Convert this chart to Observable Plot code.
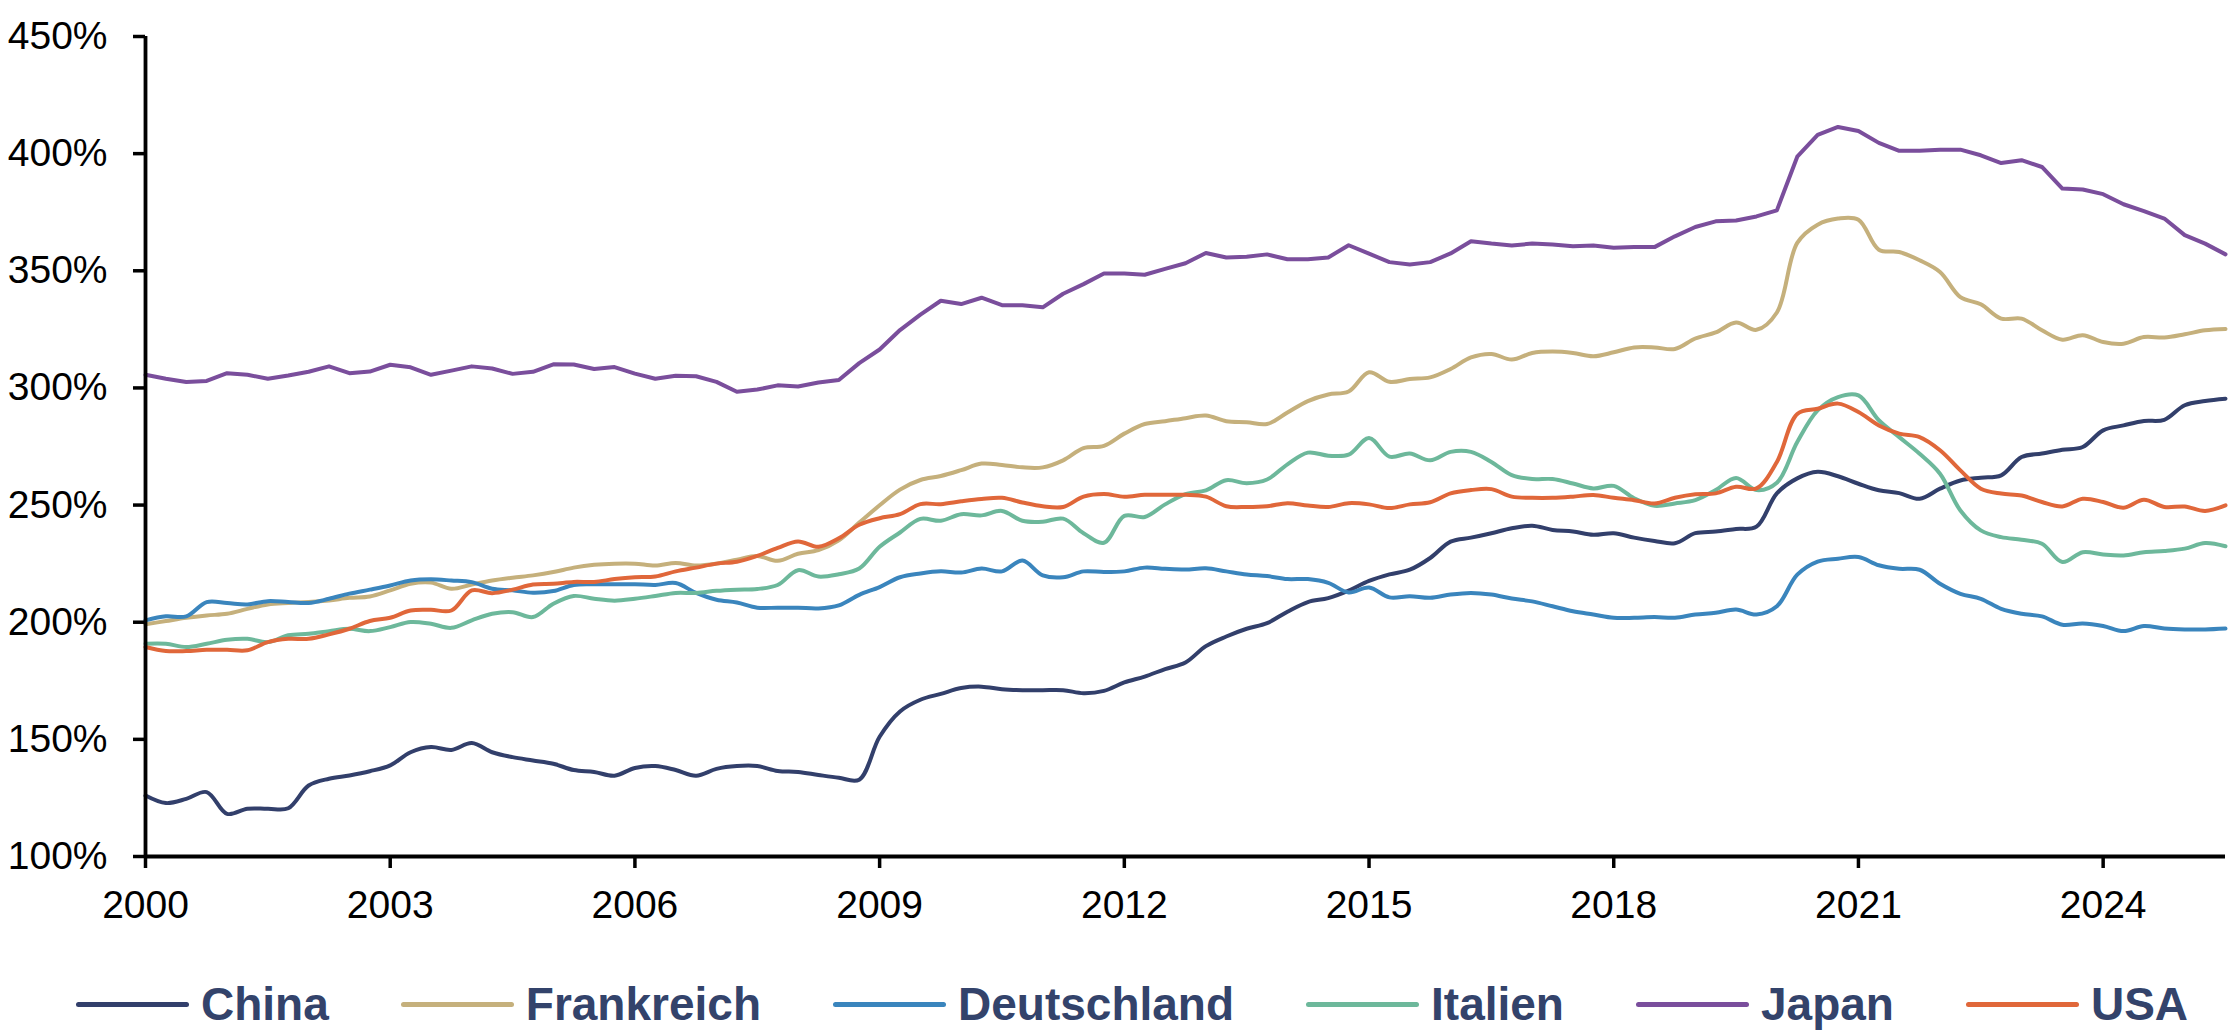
<!DOCTYPE html>
<html><head><meta charset="utf-8">
<script src="https://cdn.jsdelivr.net/npm/d3@7"></script>
<script src="https://cdn.jsdelivr.net/npm/@observablehq/plot@0.6"></script>
<style>
html,body{margin:0;padding:0;background:#fff;}
#wrap{position:relative;width:2236px;height:1036px;font-family:Arial,"Liberation Sans",sans-serif;color:#000;}
#legend{position:absolute;left:76px;top:977px;display:flex;align-items:center;gap:72px;font-weight:bold;font-size:46px;color:#33436b;line-height:normal;white-space:nowrap;}
.item{display:flex;align-items:center;}
.swatch{width:113px;height:5px;border-radius:3px;margin-right:12px;}
</style></head><body><div id="wrap"></div><script>
// Quarterly observations, 2000 Q1 .. mid 2025
const quarters = d3.range(103).map(i => 2000 + i / 4);
const countries = ["China", "Frankreich", "Deutschland", "Italien", "Japan", "USA"];
const colors = ["#323f6b", "#c5b07c", "#3a85bd", "#6db89b", "#7a4e9c", "#e0673a"];
const yTicks = [100, 150, 200, 250, 300, 350, 400, 450];
const xTicks = [2000, 2003, 2006, 2009, 2012, 2015, 2018, 2021, 2024];

const china = [126.0,122.8,124.6,127.5,118.2,120.4,120.4,120.6,130.3,133.2,134.6,136.4,138.9,144.5,146.7,145.5,148.4,144.5,142.4,141.0,139.6,
136.9,136.1,134.5,137.8,138.6,136.9,134.5,137.4,138.6,138.6,136.5,136.1,134.8,133.6,132.8,151.1,161.9,166.9,169.4,171.9,172.5,
171.4,171.0,171.0,171.0,169.7,170.7,174.3,176.8,180.0,182.8,189.8,193.9,197.2,199.6,204.5,208.6,210.3,213.5,217.6,220.4,
222.4,227.4,234.4,236.1,238.0,240.1,241.2,239.4,238.7,237.3,238.0,236.1,234.7,233.7,238.0,238.7,239.8,240.8,255.0,261.4,264.2,
262.3,259.1,256.3,255.1,252.7,257.0,260.5,261.7,262.7,270.5,272.0,273.6,274.8,281.9,284.0,285.9,286.4,292.6,294.4,295.4];

const frankreich = [199.1,200.5,201.9,202.9,203.6,205.7,207.6,208.2,208.6,209.3,210.4,211.0,213.6,216.4,216.9,214.3,216.1,217.8,219.0,220.0,221.4,
223.3,224.5,225.0,225.0,224.2,225.3,224.2,225.0,226.7,228.3,226.2,229.2,230.8,235.0,242.5,249.9,256.6,260.7,262.4,264.9,267.7,
267.1,266.1,266.1,269.1,274.3,275.3,280.5,284.6,285.8,287.1,288.2,285.8,285.4,284.6,289.5,294.4,297.2,298.5,306.7,302.6,
303.8,304.5,308.1,313.0,314.5,312.1,314.9,315.5,314.9,313.5,315.2,317.3,317.3,316.6,321.1,323.7,327.9,324.8,332.2,361.9,369.7,
372.3,371.8,359.0,358.0,354.5,349.5,338.8,335.7,329.6,329.6,324.6,320.6,322.5,319.6,318.9,321.7,321.5,322.9,324.6,325.2];

const deutschland = [200.8,202.5,202.5,208.6,208.2,207.6,209.0,208.6,208.2,210.0,212.2,213.9,215.7,217.8,218.3,217.8,217.1,214.3,213.6,212.6,213.3,
215.9,216.2,216.2,216.2,215.9,216.7,212.5,209.6,208.4,206.2,206.2,206.2,205.9,207.2,211.7,215.0,219.2,220.8,221.7,221.2,222.9,
221.7,226.3,220.0,219.2,221.7,221.4,221.7,223.3,222.8,222.5,223.0,221.7,220.4,219.7,218.4,218.4,216.8,212.7,214.8,210.6,
211.1,210.4,211.8,212.5,211.8,210.1,208.9,206.8,204.7,203.3,201.9,201.9,202.2,201.9,203.3,204.0,205.4,203.3,206.8,220.3,225.9,
227.1,227.8,224.3,222.8,222.4,216.4,212.1,210.0,205.7,203.6,202.5,198.9,199.5,198.4,196.2,198.4,197.3,196.9,196.9,197.3];

const italien = [190.8,190.8,189.4,190.8,192.5,192.9,191.5,194.4,195.1,196.2,197.2,196.2,197.9,200.1,199.3,197.6,200.8,203.6,204.3,202.2,207.9,
211.2,210.0,209.2,210.0,211.2,212.5,212.5,213.4,213.9,214.2,215.9,222.2,219.5,220.5,222.9,232.2,238.3,244.1,243.3,246.1,245.6,
247.5,243.3,242.9,244.2,238.0,233.9,245.4,244.9,250.3,254.7,256.3,260.6,259.3,260.9,267.4,272.4,271.1,271.5,278.6,270.7,
272.0,269.1,272.7,272.7,268.4,262.8,261.1,261.1,259.2,257.1,258.2,252.9,249.7,250.7,252.1,256.4,261.6,256.4,259.5,276.9,290.4,
296.1,296.8,286.2,279.0,271.9,263.4,247.7,239.2,236.3,235.2,233.5,225.7,229.9,228.9,228.5,229.9,230.4,231.4,233.8,232.4];

const japan = [305.6,303.9,302.5,303.0,306.3,305.6,303.9,305.3,306.9,309.2,306.3,307.0,309.9,308.8,305.6,307.4,309.2,308.3,306.0,306.9,310.1,
310.0,308.1,308.9,306.1,303.9,305.2,305.0,302.6,298.4,299.3,301.1,300.6,302.3,303.4,310.6,316.4,324.7,331.3,337.2,335.8,338.5,
335.3,335.3,334.4,340.2,344.3,348.8,348.8,348.3,350.8,353.2,357.6,355.7,356.0,357.0,354.9,354.9,355.7,360.9,357.3,353.7,
352.7,353.7,357.4,362.6,361.6,360.8,361.6,361.2,360.5,360.8,359.8,360.2,360.1,364.7,368.7,371.1,371.5,373.2,375.8,398.7,408.0,
411.4,409.7,404.6,401.2,401.2,401.7,401.7,399.3,396.0,397.2,394.3,385.1,384.7,382.7,378.4,375.5,372.3,365.2,361.6,357.0];

const usa = [189.4,187.7,187.7,188.2,188.2,188.0,191.5,192.9,192.9,194.8,197.2,200.5,201.9,205.0,205.3,205.0,213.6,212.4,213.9,216.1,216.4,
217.2,217.2,218.4,219.2,219.5,221.7,223.3,225.0,225.8,228.3,231.7,234.5,232.2,235.8,241.6,244.4,246.1,250.4,250.4,251.6,252.6,
253.1,251.1,249.5,249.2,253.6,254.7,253.6,254.4,254.4,254.4,253.6,249.5,249.2,249.5,250.8,249.8,249.2,250.8,250.3,248.7,
250.3,251.2,255.0,256.4,256.8,253.6,253.1,253.1,253.6,254.3,253.1,252.1,250.7,253.1,254.6,255.0,257.8,257.1,268.4,288.9,291.1,
293.3,289.7,284.0,280.5,279.0,273.4,264.8,257.0,254.9,254.1,251.3,249.4,252.7,251.3,248.9,252.3,249.2,249.4,247.5,249.9];

const seriesValues = [china, frankreich, deutschland, italien, japan, usa];
const rows = countries.flatMap((c, k) => seriesValues[k].map((v, i) => ({date: quarters[i], value: v, country: c})));

const chart = Plot.plot({
  width: 2236,
  height: 978,
  marginTop: 36,
  marginBottom: 122,
  marginLeft: 145,
  marginRight: 11,
  style: {fontFamily: "Arial, 'Liberation Sans', sans-serif", fontSize: "39px", color: "#000", background: "#fff"},
  x: {domain: [2000, 2025.5], label: null},
  y: {domain: [100, 450], label: null},
  marks: [
    ...countries.map((c, k) => Plot.line(rows.filter(r => r.country === c), {
      x: "date", y: "value", stroke: colors[k], strokeWidth: 4,
      curve: c === "Japan" ? "linear" : "catmull-rom"
    })),
    Plot.ruleX([2000], {strokeWidth: 3.8, stroke: "#000"}),
    Plot.ruleY([100], {strokeWidth: 3.8, stroke: "#000"}),
    Plot.axisY({ticks: yTicks, tickFormat: d => d + "%", tickSize: 12, tickPadding: 26, strokeWidth: 3.5, fontSize: 39}),
    Plot.axisX({ticks: xTicks, tickFormat: d => String(d), tickSize: 12, tickPadding: 22, strokeWidth: 3.5, fontSize: 39})
  ]
});

const wrap = document.getElementById("wrap");
wrap.appendChild(chart);

const legend = document.createElement("div");
legend.id = "legend";
countries.forEach((c, k) => {
  const item = document.createElement("div");
  item.className = "item";
  const sw = document.createElement("span");
  sw.className = "swatch";
  sw.style.background = colors[k];
  const t = document.createElement("span");
  t.textContent = c;
  item.appendChild(sw);
  item.appendChild(t);
  legend.appendChild(item);
});
wrap.appendChild(legend);
</script></body></html>
